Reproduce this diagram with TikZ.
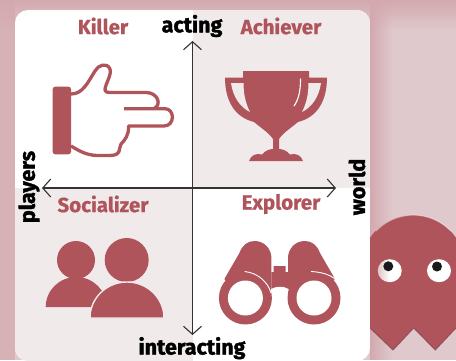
\documentclass[tikz,border=0pt]{standalone}
\usepackage{fontspec}
\setmainfont{Fira Sans}[BoldFeatures={FakeBold=.6}]
\newfontfamily\axisfont{Fira Sans}[BoldFeatures={FakeBold=1.6}]
\usetikzlibrary{arrows.meta,fadings}
\definecolor{rosered}{HTML}{B0545C}
\definecolor{paletint}{HTML}{F0EAEB}
\definecolor{bgpink}{HTML}{DFC9CC}
\definecolor{bgdark}{HTML}{D3A9AF}
\tikzset{
  typelabel/.style={text=rosered,font=\bfseries\fontsize{20.5}{20.5}\selectfont},
  axislabel/.style={text=black,font=\axisfont\bfseries\fontsize{21.5}{21.5}\selectfont},
  axisline/.style={draw=black!80,line width=1.1pt,<->,>={Straight Barb[length=8pt,width=18pt,line width=1.1pt]}},
  iconfill/.style={fill=rosered,draw=none},
  iconline/.style={draw=rosered,line width=3.3pt,fill=none,line join=round},
  gloss/.style={draw=white,line width=1.1pt,line cap=round}
}
\begin{document}
\begin{tikzpicture}[x=1pt,y=-1pt]
\useasboundingbox (0,0) rectangle (456,360);
\begin{scope}
\clip (0,0) rectangle (456,360);
\fill[bgpink] (0,0) rectangle (456,360);
\fill[bgdark,path fading=south] (0,0) rectangle (456,30);
\fill[bgdark,path fading=east] (370,0) rectangle (392,360);
\fill[bgdark,opacity=.75] (0,0) rectangle (15,360);
% ghost behind the card
\fill[rosered] (361,360) -- (361,267) arc (180:360:52 and 52) -- (465,328) -- (456,328) -- (435.3,350) -- (413.7,328) -- (393,350) -- (370,328) -- (361,320) -- cycle;
\draw[white,opacity=.45,line width=1pt] (376,231) arc (224:316:52 and 52);
\draw[rosered!70!black,opacity=.6,line width=1pt] (370,328) -- (393,350) -- (413.7,328) -- (435.3,350) -- (456,328);
\shade[left color=paletint!75!rosered,right color=white,middle color=white] (389.7,270.7) ellipse (12 and 11.5);
\fill[white] (439,270.7) ellipse (12 and 11.5);
\fill[black!90] (388.3,266.3) circle (5);
\fill[black!90] (437,266.5) circle (5);
% card
\begin{scope}
\clip[rounded corners=13pt] (15,10) rectangle (370,361);
\fill[white] (15,10) rectangle (370,361);
\fill[paletint] (192.5,10) rectangle (370,188);
\fill[paletint] (15,188) rectangle (192.5,361);
\end{scope}
\end{scope}
% hand
\fill[iconfill,rounded corners=2.5pt] (52.7,86.7) rectangle (71,154.3);
\draw[iconline]
  (71,94) .. controls (83,94) and (88,82) .. (95,71)
  .. controls (98,65) and (107,62) .. (110,69)
  .. controls (112,75) and (105,84) .. (105,90)
  .. controls (105,92) and (107,92.5) .. (110,92.5)
  -- (146,92.5) .. controls (158,92.5) and (162,105) .. (154,108.5);
\draw[iconline]
  (124,108.7) -- (165,108.7) .. controls (175,108.7) and (175,126) .. (164,126)
  -- (128.5,126) .. controls (129,135) and (125,140) .. (121,144)
  .. controls (118,150) and (122,155) .. (110,155.5)
  -- (97,155.5) .. controls (85,155) and (78,150) .. (71,146);
% trophy
\fill[iconfill] (243,71) -- (309,71) -- (309,77.5) -- (327,77.5)
  .. controls (327,100) and (318,117) .. (298,122)
  .. controls (291,128) and (284,132) .. (279,139) -- (279,149)
  .. controls (283,149) and (287,151) .. (290,154.5)
  .. controls (296,153) and (301,155) .. (303,161)
  -- (249,161) .. controls (251,155) and (256,153) .. (262,154.5)
  .. controls (265,151) and (269,149) .. (273,149) -- (273,139)
  .. controls (268,132) and (261,128) .. (254,122)
  .. controls (234,117) and (225,100) .. (225,77.5)
  -- (243,77.5) -- cycle;
\fill[paletint] (231,83) -- (243.5,83) .. controls (243.5,95) and (246,104) .. (250,112)
  .. controls (240,107) and (233,97) .. (231,83) -- cycle;
\fill[paletint] (321,83) -- (308.5,83) .. controls (308.5,95) and (306,104) .. (302,112)
  .. controls (312,107) and (319,97) .. (321,83) -- cycle;
\draw[gloss] (300.5,79) .. controls (300.5,90) and (299,99) .. (294,106);
% people
\fill[iconfill] (76,260) circle (19);
\fill[iconfill] (45.7,307) arc (180:360:30.5 and 30) -- cycle;
\fill[iconfill] (126.7,260) circle (22);
\draw[iconfill,draw=paletint,line width=1.4pt] (90,318) arc (180:360:37 and 36) -- cycle;
% binoculars
\fill[iconfill] (273.7,266) -- (285.7,266) -- (285.7,272) -- (288,272) -- (288,291) -- (271.4,291) -- (271.4,272) -- (273.7,272) -- cycle;
\fill[iconfill] (288,272) -- (288,258) .. controls (288,249) and (295,241) .. (304.7,241)
  .. controls (312,241) and (317,245) .. (320,253) -- (335,279) -- (320,300) -- (288,300) -- cycle;
\fill[iconfill] (271.4,272) -- (271.4,258) .. controls (271.4,249) and (264.4,241) .. (254.7,241)
  .. controls (247.4,241) and (242.4,245) .. (239.4,253) -- (224.4,279) -- (239.4,300) -- (271.4,300) -- cycle;
\fill[white] (271,289) .. controls (276,286) and (284,286) .. (288.5,289) -- (288.5,300) -- (271,300) -- cycle;
\fill[iconfill] (314,298) circle (26.5);
\fill[iconfill] (245.4,298) circle (26.5);
\fill[white] (314,298) circle (17.5);
\fill[white] (245.4,298) circle (17.5);
\draw[white,line width=.9pt] (311,271.5) .. controls (322,272) and (331,275) .. (336,280);
\draw[white,line width=.9pt] (244.7,271.5) .. controls (258,273) and (268,282) .. (271,293);
% axes
\coordinate (acttip) at (192.5,41);
\coordinate (inttip) at (192.5,335);
\coordinate (plytip) at (42,188);
\coordinate (wldtip) at (336,188);
\draw[axisline] (acttip) -- (inttip);
\draw[axisline] (plytip) -- (wldtip);
% labels
\node[typelabel] (killer) at (103,26) {Killer};
\node[typelabel] (achiever) at (281,26) {Achiever};
\node[typelabel] (socializer) at (103,204) {Socializer};
\node[typelabel] (explorer) at (281,204) {Explorer};
\node[axislabel] (acting) at (192,26) {acting};
\node[axislabel,anchor=base] (interacting) at (192,354.5) {interacting};
\node[axislabel,rotate=90] (players) at (29,187) {players};
\node[axislabel,rotate=90] (world) at (357,187) {world};
\end{tikzpicture}
\end{document}
